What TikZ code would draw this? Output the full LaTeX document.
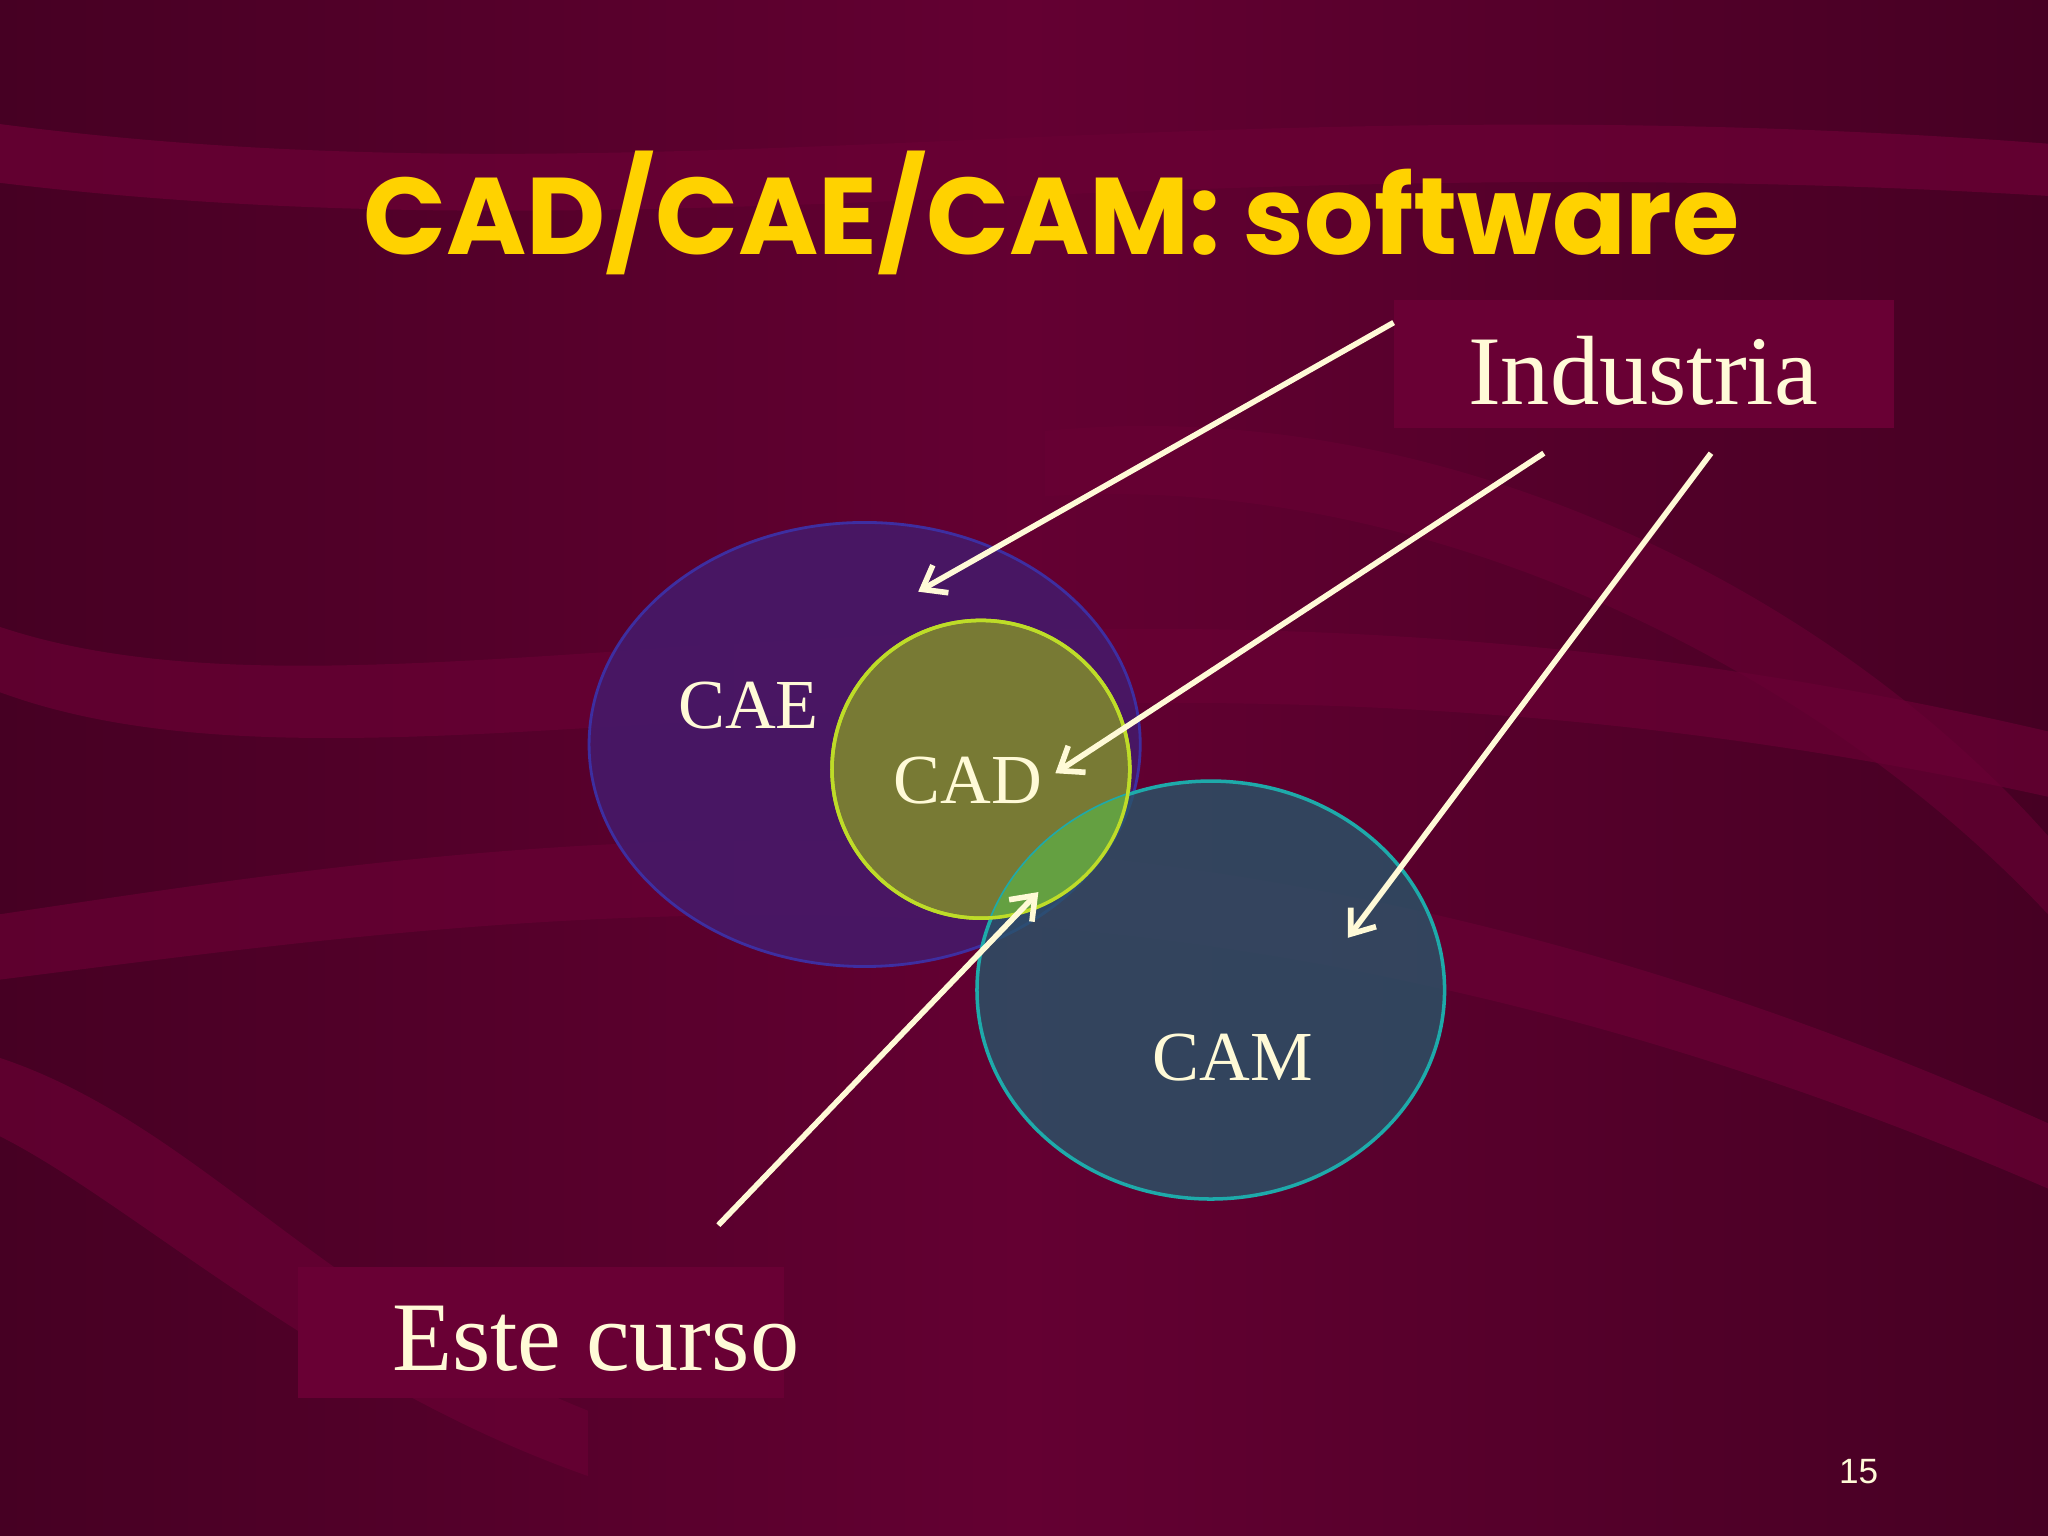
\documentclass[tikz,border=0pt]{standalone}
\usepackage{fontspec}
\setmainfont{Liberation Serif}
\newfontfamily\titlefont{Poppins}
\newfontfamily\numfont{Liberation Sans}
\usetikzlibrary{arrows.meta}
\definecolor{bgA}{RGB}{70,0,35}
\definecolor{bgB}{RGB}{100,0,50}
\definecolor{band}{RGB}{105,0,52}
\definecolor{ttl}{RGB}{255,210,0}
\definecolor{cream}{RGB}{255,250,215}
\definecolor{caeF}{RGB}{70,25,105}
\definecolor{caeD}{RGB}{60,50,170}
\definecolor{cadF}{RGB}{120,122,52}
\definecolor{cadD}{RGB}{190,220,40}
\definecolor{camF}{RGB}{40,85,105}
\definecolor{camD}{RGB}{30,170,170}
\definecolor{ovl}{RGB}{100,160,65}
\tikzset{
 lbl/.style={text=cream,font=\fontsize{20}{22}\selectfont,inner sep=0pt},
 big/.style={text=cream,font=\fontsize{28}{32}\selectfont,inner sep=0pt},
 arr/.style={draw=cream,line width=1.6pt,-{Straight Barb[length=6pt,width=9pt]}},
 boxf/.style={fill=band,draw=none}
}
\begin{document}
\begin{tikzpicture}[x=0.013061cm,y=-0.013061cm]
\useasboundingbox (0,0) rectangle (1568,1176);
\shade[left color=bgA,right color=bgA,middle color=bgB] (0,0) rectangle (1568,1176);
% wavy bands
\fill[band,opacity=0.8] (0,95) .. controls (500,160) and (900,60) .. (1568,110) -- (1568,150) .. controls (900,110) and (500,200) .. (0,140) -- cycle;
\fill[band,opacity=0.7] (0,480) .. controls (300,580) and (800,380) .. (1568,560) -- (1568,610) .. controls (800,440) and (300,640) .. (0,530) -- cycle;
\fill[band,opacity=0.7] (0,700) .. controls (400,640) and (900,560) .. (1568,860) -- (1568,910) .. controls (900,620) and (400,700) .. (0,750) -- cycle;
\fill[band,opacity=0.7] (0,810) .. controls (150,860) and (250,1000) .. (450,1080) -- (450,1130) .. controls (250,1060) and (100,920) .. (0,870) -- cycle;
\fill[band,opacity=0.6] (800,330) .. controls (1100,300) and (1400,450) .. (1568,640) -- (1568,700) .. controls (1400,520) and (1100,360) .. (800,380) -- cycle;
% title
\node[text=ttl,font=\titlefont\bfseries\fontsize{31}{36}\selectfont,inner sep=0pt] (title) at (805,163) {CAD/CAE/CAM: software};
% boxes
\fill[boxf] (1067,230) rectangle (1450,328);
\fill[boxf] (228,970) rectangle (600,1070);
\node[big] (ind) at (1258,284) {Industria};
\node[big] (este) at (456,1025) {Este curso};
% sets
\draw[fill=caeF,draw=caeD,line width=0.8pt,opacity=0.9] (662,570) ellipse [x radius=211,y radius=170];
\draw[fill=cadF,draw=cadD,line width=1pt] (751,589) ellipse [x radius=114,y radius=114];
\draw[fill=camF,draw=camD,line width=1pt,fill opacity=0.8] (927,758) ellipse [x radius=179,y radius=160];
\begin{scope}
\clip (751,589) ellipse [x radius=114,y radius=114];
\fill[ovl] (927,758) ellipse [x radius=179,y radius=160];
\end{scope}
\draw[draw=cadD,line width=1pt] (751,589) ellipse [x radius=114,y radius=114];
\node[lbl] (cae) at (573,540) {CAE};
\node[lbl] (cad) at (741,598) {CAD};
\node[lbl] (cam) at (944,810) {CAM};
% arrows
\coordinate (s1) at (1067,247); \coordinate (e1) at (703,453);
\coordinate (s2) at (1182,347); \coordinate (e2) at (808,592);
\coordinate (s3) at (1310,347); \coordinate (e3) at (1032,718);
\coordinate (s4) at (550,938); \coordinate (e4) at (795,683);
\draw[arr] (s1) -- (e1);
\draw[arr] (s2) -- (e2);
\draw[arr] (s3) -- (e3);
\draw[arr] (s4) -- (e4);
\node[text=cream,font=\numfont\fontsize{10}{12}\selectfont] (pg) at (1423,1127) {15};
\end{tikzpicture}
\end{document}
